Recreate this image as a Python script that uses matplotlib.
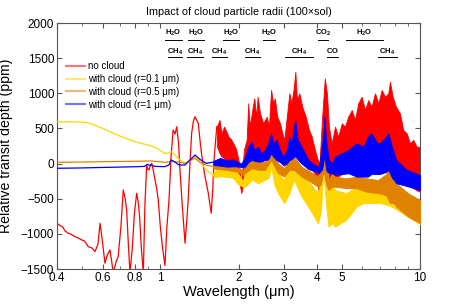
import matplotlib
matplotlib.use("Agg")
import matplotlib.pyplot as plt
from matplotlib.lines import Line2D
from matplotlib.ticker import FixedLocator, NullFormatter
import numpy as np

plt.rcParams['font.family'] = ['Liberation Sans', 'DejaVu Sans']
plt.rcParams['mathtext.fontset'] = 'custom'
plt.rcParams['mathtext.rm'] = 'Liberation Sans'
plt.rcParams['mathtext.it'] = 'Liberation Sans:italic'
plt.rcParams['mathtext.bf'] = 'Liberation Sans:bold'

# ---------------- data ----------------
# no cloud: thin part
red_lam = [0.400, 0.410, 0.420, 0.430, 0.442, 0.455, 0.469, 0.483, 0.498, 0.510, 0.528, 0.545,
           0.560, 0.575, 0.586, 0.598, 0.612, 0.625, 0.640, 0.650, 0.659, 0.675, 0.688, 0.705,
           0.720, 0.732, 0.742, 0.752, 0.764, 0.780, 0.795, 0.811, 0.822, 0.832, 0.845, 0.860,
           0.872, 0.886, 0.895, 0.904, 0.915, 0.926, 0.940, 0.954, 0.968, 0.982, 1.000, 1.020,
           1.042, 1.060, 1.080, 1.100, 1.120, 1.140, 1.156, 1.175, 1.190, 1.215, 1.245, 1.265,
           1.280, 1.300, 1.320, 1.340, 1.360, 1.380, 1.400, 1.420, 1.440, 1.480, 1.530, 1.555,
           1.570, 1.590, 1.610, 1.630, 1.650]
red_val = [-849, -880, -900, -960, -991, -1010, -1040, -1060, -1087, -1100, -1182, -1200,
           -1253, -1150, -849, -1100, -1418, -1300, -1229, -1400, -1560, -1400, -1324, -900,
           -375, -500, -660, -1100, -1560, -1200, -700, -422, -550, -755, -1200, -1560,
           -600, -20, -80, -91, -30, 4, -100, -233, -350, -518, -900, -1200,
           -1450, -900, -518, 100, 478, 420, 525, 300, -91, -600, -1133, -800,
           -518, 0, 431, 600, 667, 620, 573, 350, 146, -150, -422, -600,
           -707, -400, 51, 300, 525]
# no cloud: noisy part (lower / upper envelope)
red_band_lam = [1.65, 1.69, 1.72, 1.76, 1.80, 1.83, 1.87, 1.91, 1.96, 2.00,
                2.05, 2.10, 2.15, 2.18, 2.21, 2.26, 2.30, 2.34, 2.37, 2.42,
                2.49, 2.57, 2.62, 2.67, 2.72, 2.76, 2.82, 2.89, 2.95, 3.00,
                3.07, 3.14, 3.20, 3.27, 3.31, 3.36, 3.43, 3.52, 3.63, 3.74,
                3.83, 3.94, 4.04, 4.10, 4.20, 4.30, 4.38, 4.46, 4.57, 4.71,
                4.84, 5.00, 5.14, 5.29, 5.46, 5.62, 5.78, 5.96, 6.14, 6.32,
                6.51, 6.71, 6.91, 7.12, 7.33, 7.55, 7.66, 7.85, 8.08, 8.37,
                8.62, 8.88, 9.15, 9.42, 9.71, 10.0]
red_band_hi = [525, 620, 431, 525, 450, 382, 350, 289, 200, 51,
               -280, 200, 336, 857, 525, 762, 929, 667, 951, 715,
               573, 667, 525, 1047, 857, 929, 667, 573, 431, 336,
               667, 1000, 857, 1094, 1307, 904, 1000, 809, 667, 478,
               382, 193, 51, 0, 667, 1213, 1000, 525, 289, 525,
               382, 573, 525, 667, 762, 620, 857, 951, 762, 904,
               809, 1000, 857, 1047, 951, 1000, 1165, 951, 809, 715,
               478, 431, 289, 336, 240, 240]
red_band_lo = [250, 150, 100, 80, 50, 30, 0, -20, -50, -200,
               -420, -250, -100, 0, 20, 50, 100, 80, 80, 80,
               60, 60, 60, 150, 130, 120, 80, 50, 0, -30,
               0, 50, 80, 100, 150, 120, 100, 50, 0, -50,
               -80, -150, -300, -520, -100, 300, 100, -200, -250, -200,
               -180, -150, -120, -120, -130, -150, -150, -150, -150, -150,
               -120, -120, -110, -100, -100, -90, -80, -120, -200, -230,
               -260, -290, -320, -350, -380, -400]

# r = 0.1 um
yel_lam = [0.40, 0.45, 0.50, 0.528, 0.60, 0.70, 0.80, 0.926, 0.97, 1.04, 1.07, 1.10, 1.12,
           1.18, 1.245, 1.30, 1.36, 1.42, 1.48, 1.53, 1.60]
yel_val = [596, 594, 590, 582, 500, 390, 310, 250, 220, 146, 146, 170, 150,
           60, 4, 40, 98, 30, -60, -115, -162]
yel_band_lam = [1.60, 1.70, 1.80, 1.90, 2.00, 2.08, 2.12, 2.25, 2.38, 2.53, 2.62, 2.67, 2.75,
                2.84, 3.00, 3.14, 3.27, 3.50, 3.78, 4.04, 4.15, 4.25, 4.35, 4.44, 4.60, 4.70,
                5.20, 5.70, 6.05, 6.50, 7.00, 7.66, 8.10, 9.00, 10.0]
yel_band_hi = [-120, -50, -40, -60, -150, -250, -91, 4, -44, -44, 0, 146, -50,
               -138, -233, -44, 51, -186, -280, -422, -200, 400, -100, -350, -280, -375,
               -422, -328, -320, -300, -280, -200, -320, -450, -520]
yel_band_lo = [-200, -180, -190, -200, -300, -330, -328, -233, -280, -233, -200, -44, -300,
               -422, -565, -422, -233, -470, -660, -849, -700, -100, -600, -897, -849, -897,
               -802, -613, -565, -560, -560, -600, -650, -760, -860]

# r = 0.5 um
org_lam = [0.40, 0.50, 0.60, 0.70, 0.80, 0.926, 1.00, 1.04, 1.10, 1.18, 1.245, 1.30, 1.36,
           1.42, 1.50, 1.60]
org_val = [18, 22, 27, 30, 33, 37, 25, 18, 30, 20, 4, 40, 75,
           20, -20, -44]
org_band_lam = [1.60, 1.80, 2.00, 2.08, 2.12, 2.25, 2.38, 2.53, 2.67, 2.84, 3.00, 3.14, 3.27,
                3.50, 3.78, 4.04, 4.15, 4.25, 4.35, 4.44, 4.60, 4.70, 5.20, 5.70, 6.20, 6.90,
                7.40, 7.66, 7.90, 8.10, 9.00, 10.0]
org_band_hi = [-20, -20, -60, -100, -20, 75, 27, 27, 193, 4, -67, 51, 98,
               -44, -115, -186, -50, 573, 0, -233, -138, -186, -209, -186, -209, -233,
               -150, 4, -250, -280, -422, -518]
org_band_lo = [-70, -91, -120, -162, -138, -67, -91, -91, 51, -138, -186, -91, -91,
               -186, -257, -328, -300, -100, -300, -375, -328, -328, -351, -351, -399, -422,
               -450, -565, -560, -613, -755, -849]

# r = 1 um
blu_lam = [0.40, 0.50, 0.60, 0.70, 0.80, 0.87, 0.89, 0.91, 0.926, 0.95, 1.04, 1.08, 1.10,
           1.13, 1.18, 1.245, 1.30, 1.36, 1.42, 1.50, 1.60]
blu_val = [-67, -62, -55, -50, -45, -40, -10, -25, -20, -40, -44, -20, 51,
           30, -20, -20, 50, 122, 60, 4, 20]
blu_band_lam = [1.60, 1.70, 1.80, 1.90, 2.00, 2.05, 2.12, 2.18, 2.25, 2.30,
                2.38, 2.45, 2.53, 2.60, 2.67, 2.72, 2.80, 2.89, 2.97, 3.07,
                3.14, 3.20, 3.27, 3.31, 3.38, 3.45, 3.55, 3.72, 3.94, 4.08,
                4.20, 4.28, 4.36, 4.46, 4.59, 4.70, 5.00, 5.30, 5.70, 6.05,
                6.30, 6.50, 6.85, 7.00, 7.40, 7.55, 7.80, 8.10, 8.90, 10.0]
blu_band_hi = [40, 80, 51, 60, 20, 0, 98, 240, 311, 193,
               240, 146, 193, 289, 431, 289, 336, 193, 98, 193,
               382, 289, 525, 620, 336, 289, 193, 51, -20, -44,
               289, 667, 289, 51, 4, 98, 146, 193, 289, 240,
               382, 431, 289, 289, 382, 431, 240, 51, -91, -162]
blu_band_lo = [-20, -30, -44, -40, -40, -50, -44, 20, 51, 40,
               27, 30, 51, 60, 146, 100, 51, 20, -20, 0,
               51, 60, 98, 100, 60, 20, -20, -80, -110, -138,
               -80, 100, -100, -138, -138, -160, -150, -138, -186, -186,
               -186, -150, -150, -150, -120, -91, -200, -280, -320, -375]

series_labels = ['no cloud', 'with cloud (r=0.1 μm)', 'with cloud (r=0.5 μm)', 'with cloud (r=1 μm)']
series_colors = ['#FF0000', '#FFD500', '#E08200', '#0000FF']

# molecular band markers: label, start, end, row
mol_labels = [r'$\mathbf{H_2O}$', r'$\mathbf{H_2O}$', r'$\mathbf{H_2O}$', r'$\mathbf{H_2O}$',
              r'$\mathbf{CO_2}$', r'$\mathbf{H_2O}$',
              r'$\mathbf{CH_4}$', r'$\mathbf{CH_4}$', r'$\mathbf{CH_4}$', r'$\mathbf{CH_4}$',
              r'$\mathbf{CH_4}$', r'$\mathbf{CO}$', r'$\mathbf{CH_4}$']
mol_start = [1.042, 1.275, 1.748, 2.48, 4.04, 5.17, 1.073, 1.264, 1.577, 2.118, 3.02, 4.37, 6.91]
mol_end = [1.208, 1.476, 2.008, 2.76, 4.43, 7.22, 1.208, 1.464, 1.801, 2.419, 3.88, 4.84, 8.13]
mol_row = [0, 0, 0, 0, 0, 0, 1, 1, 1, 1, 1, 1, 1]

xtick_vals = [0.4, 0.6, 0.8, 1, 2, 3, 4, 5, 10]
xtick_labels = ['0.4', '0.6', '0.8', '1', '2', '3', '4', '5', '10']
xminor_vals = [0.5, 0.7, 0.9, 6, 7, 8, 9]
ytick_vals = [-1500, -1000, -500, 0, 500, 1000, 1500, 2000]

# ---------------- figure ----------------
W, H = 463, 308
fig = plt.figure(figsize=(W / 100, H / 100), dpi=100)
ax = fig.add_axes([57 / W, 39 / H, 363 / W, 246 / H])

thin = [(red_lam, red_val), (yel_lam, yel_val), (org_lam, org_val), (blu_lam, blu_val)]
bands = [(red_band_lam, red_band_lo, red_band_hi), (yel_band_lam, yel_band_lo, yel_band_hi),
         (org_band_lam, org_band_lo, org_band_hi), (blu_band_lam, blu_band_lo, blu_band_hi)]
for i, c in enumerate(series_colors):
    lam, val = thin[i]
    ax.plot(lam, val, color=c, lw=0.9, zorder=2 + i)
    bl, lo, hi = bands[i]
    ax.fill_between(bl, lo, hi, color=c, lw=0.6, edgecolor=c, zorder=2 + i)

ax.set_xscale('log')
ax.set_xlim(0.4, 10)
ax.set_ylim(-1500, 2000)
ax.xaxis.set_major_locator(FixedLocator(xtick_vals))
ax.set_xticklabels(xtick_labels)
ax.xaxis.set_minor_locator(FixedLocator(xminor_vals))
ax.xaxis.set_minor_formatter(NullFormatter())
ax.set_yticks(ytick_vals)
ax.tick_params(which='both', direction='in', top=True, right=True, labelsize=8.5,
               color='#555555', pad=2)
ax.tick_params(which='major', length=3.5)
ax.tick_params(which='minor', length=2)
for s in ax.spines.values():
    s.set_color('#555555')
    s.set_linewidth(0.8)

ax.set_xlabel('Wavelength (μm)', fontsize=10.5, labelpad=1)
ax.set_ylabel('Relative transit depth (ppm)', fontsize=10.2)
ax.yaxis.set_label_coords(-0.122, 0.5)
fig.text(238.5 / W, 1 - 12 / H, 'Impact of cloud particle radii (100×sol)', ha='center',
         va='center', fontsize=7.8)

# molecule markers
row_text_y = [1829, 1568]
row_line_y = [1758, 1523]
for lab, a, b, r in zip(mol_labels, mol_start, mol_end, mol_row):
    ax.plot([a, b], [row_line_y[r], row_line_y[r]], color='k', lw=0.7, zorder=10)
    ax.text(np.sqrt(a * b), row_text_y[r], lab, ha='center', va='baseline', fontsize=5.5, zorder=10)

handles = [Line2D([], [], color=c, lw=1.5, alpha=0.55) for c in series_colors]
ax.legend(handles, series_labels, loc='upper left', bbox_to_anchor=(0.0248, 0.8455),
          frameon=False, fontsize=7, handlelength=2.0, handletextpad=0.25,
          labelspacing=0.3, borderpad=0, borderaxespad=0)

fig.savefig('out.png', dpi=100)
